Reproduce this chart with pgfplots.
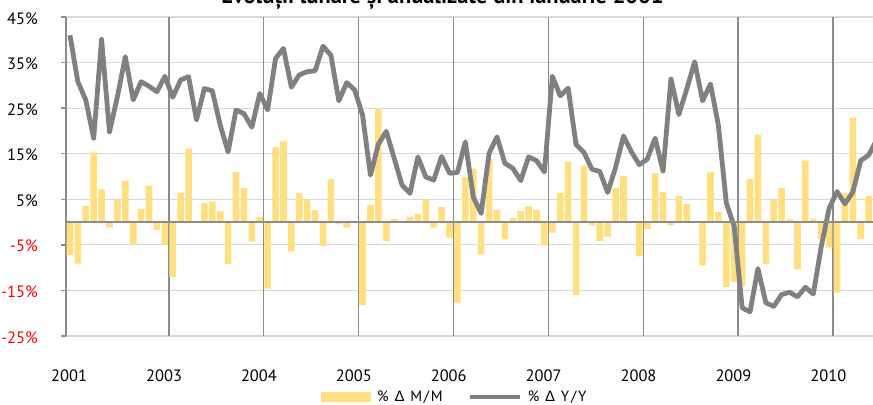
\documentclass[border=0pt]{standalone}
\usepackage{fontspec}
\setmainfont{PT Sans}
\newfontfamily\greekfont{Liberation Sans}
\newfontfamily\legfont[LetterSpace=12]{PT Sans}
\newfontfamily\leggreek[LetterSpace=12]{Liberation Sans}
\usepackage{pgfplots}
\usepackage{pgfplotstable}
\pgfplotsset{compat=1.18}
\definecolor{baryellow}{RGB}{255,223,128}
\definecolor{linegray}{RGB}{128,128,128}
\definecolor{gridgray}{RGB}{217,217,217}
\definecolor{yeargray}{RGB}{140,140,140}
\definecolor{labred}{RGB}{255,0,0}

\pgfplotstableread{
x mm yy
0.5 -7.2 41.0
1.5 -9.1 30.8
2.5 3.5 26.8
3.5 15.3 18.4
4.5 7.2 40.1
5.5 -1.2 19.8
6.5 4.8 27.5
7.5 9.0 36.3
8.5 -4.8 26.8
9.5 2.9 30.8
10.5 8.0 29.8
11.5 -1.7 28.6
12.5 -4.8 32.0
13.5 -12.0 27.4
14.5 6.4 31.2
15.5 16.1 31.9
16.5 -0.2 22.4
17.5 4.2 29.3
18.5 4.5 28.8
19.5 2.4 21.3
20.5 -9.2 15.4
21.5 11.0 24.6
22.5 7.5 23.8
23.5 -4.3 20.8
24.5 1.2 28.2
25.5 -14.6 24.6
26.5 16.5 35.9
27.5 17.7 38.1
28.5 -6.5 29.6
29.5 6.3 32.3
30.5 5.0 33.0
31.5 2.6 33.2
32.5 -5.3 38.6
33.5 9.4 36.6
34.5 -0.4 26.6
35.5 -1.2 30.6
36.5 0.1 29.0
37.5 -18.2 23.5
38.5 3.7 10.3
39.5 24.9 17.1
40.5 -4.1 19.9
41.5 0.7 14.0
42.5 0.0 8.1
43.5 1.2 6.3
44.5 1.8 14.3
45.5 5.0 9.9
46.5 -1.2 9.2
47.5 3.3 14.4
48.5 -3.4 10.7
49.5 -17.7 10.9
50.5 9.8 17.6
51.5 11.7 5.5
52.5 -7.1 1.9
53.5 13.8 15.1
54.5 2.7 18.7
55.5 -3.8 12.9
56.5 0.9 11.8
57.5 2.4 9.1
58.5 3.5 14.3
59.5 2.6 13.5
60.5 -5.1 11.0
61.5 -2.3 32.0
62.5 6.4 27.7
63.5 13.2 29.4
64.5 -16.0 17.0
65.5 12.4 15.3
66.5 -0.7 11.6
67.5 -4.1 11.1
68.5 -3.2 6.5
69.5 7.5 12.0
70.5 10.1 18.9
71.5 -0.2 15.4
72.5 -7.5 12.6
73.5 -1.5 13.8
74.5 10.7 18.4
75.5 6.6 11.2
76.5 -0.7 31.4
77.5 5.7 23.6
78.5 4.0 29.2
79.5 0.0 35.2
80.5 -9.5 26.6
81.5 10.9 30.3
82.5 2.2 21.2
83.5 -14.2 4.2
84.5 -13.1 -1.0
85.5 -14.0 -18.8
86.5 9.4 -19.7
87.5 19.2 -10.2
88.5 -9.2 -17.7
89.5 4.8 -18.5
90.5 7.5 -15.9
91.5 0.7 -15.4
92.5 -10.4 -16.4
93.5 13.5 -14.3
94.5 0.7 -15.8
95.5 -3.7 -5.4
96.5 -5.6 3.0
97.5 -15.5 6.7
98.5 6.3 4.0
99.5 22.9 6.6
100.5 -3.7 13.5
101.5 5.7 14.7
102.5 9.6 18.0
}\datatable

\begin{document}
\begin{tikzpicture}
\begin{axis}[
  at={(0,0)}, anchor=south west,
  scale only axis,
  width=807bp, height=319bp,
  xmin=0, xmax=102.05,
  ymin=-25, ymax=45,
  axis x line*=bottom,
  axis y line*=left,
  x axis line style={-, draw=gridgray, line width=1.2bp},
  y axis line style={-, draw=yeargray, line width=1.4bp},
  xtick={0.4,12.4,24.4,36.4,48.4,60.4,72.4,84.4,96.4},
  xticklabels={2001,2003,2004,2005,2006,2007,2008,2009,2010},
  xtick style={draw=none},
  xticklabel style={anchor=base, inner sep=0pt, yshift=-40bp, font=\fontsize{16.5}{19}\selectfont},
  extra x ticks={0,13,25,37,49,61,73,85,97},
  extra x tick labels={},
  extra x tick style={grid=major, major grid style={draw=yeargray, line width=1.4bp}, tick style={draw=none}},
  ytick={-25,-15,-5,5,15,25,35,45},
  yticklabels={\textcolor{labred}{-25\%},\textcolor{labred}{-15\%},\textcolor{labred}{-5\%},5\%,15\%,25\%,35\%,45\%},
  yticklabel style={anchor=base east, inner sep=0pt, xshift=-23bp, yshift=-7bp, font=\fontsize{16.5}{19}\selectfont},
  ytick style={draw=yeargray, line width=1.3bp},
  tick align=outside,
  major tick length=5bp,
  ymajorgrids,
  major grid style={draw=gridgray, line width=1.2bp},
  clip=true,
  legend style={at={(0.316,-0.191)}, anchor=west, draw=none, fill=none,
    inner sep=0pt, legend columns=2,
    nodes={inner sep=0pt, font=\legfont\fontsize{15}{18}\selectfont},
    /tikz/every odd column/.append style={column sep=6bp},
    /tikz/every even column/.append style={column sep=25bp}},
]
\addplot[ybar, bar width=6.6bp, fill=baryellow, draw=none,
  legend image code/.code={\fill[baryellow] (0bp,-5bp) rectangle (50bp,5bp);}]
  table[x=x, y=mm] {\datatable};
\addlegendentry{\% {\leggreek Δ} M/M}
\addplot[linegray, line width=4.8bp, line join=round, mark=none,
  legend image code/.code={\draw[linegray, line width=4bp] (0bp,0bp) -- (50bp,0bp);}]
  table[x=x, y=yy] {\datatable};
\addlegendentry{\% {\leggreek Δ} Y/Y}
\draw[yeargray, line width=1.4bp] (axis cs:0,0) -- (axis cs:102.05,0);
\end{axis}
\node[anchor=base, font=\bfseries\fontsize{22.5}{26}\selectfont] at (376.5bp,332.5bp) {Evoluții lunare și anualizate din ianuarie 2001};
\pgfresetboundingbox
\useasboundingbox (-66bp,-69bp) rectangle (807bp,336bp);
\end{tikzpicture}
\end{document}
